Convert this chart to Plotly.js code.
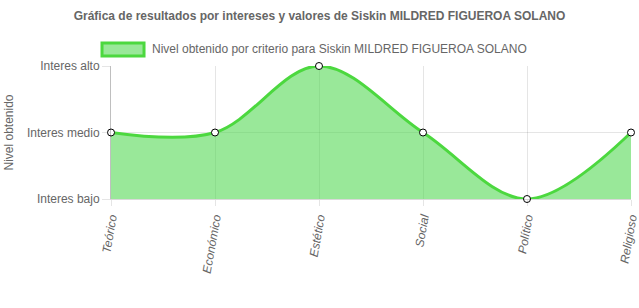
<!DOCTYPE html>
<html><head><meta charset="utf-8">
<script src="https://cdn.plot.ly/plotly-3.0.1.min.js"></script>
<style>html,body{margin:0;padding:0;background:#fff}#c{width:639px;height:308px}</style>
</head><body><div id="c"></div>
<script>
const categories = ["Teórico","Económico","Estético","Social","Político","Religioso"];
const values = [2, 2, 3, 2, 1, 2];
const levelValues = [1, 2, 3];
const levelLabels = ["Interes bajo","Interes medio","Interes alto"];
const seriesName = "Nivel obtenido por criterio para Siskin MILDRED FIGUEROA SOLANO";
const chartTitle = "Gráfica de resultados por intereses y valores de Siskin MILDRED FIGUEROA SOLANO";

const font = "Liberation Sans, Arial, Helvetica, sans-serif";
const green = "#4cd83f";
const fillc = "rgba(80,215,80,0.58)";
const trace = {
  x: categories, y: values, type: "scatter", mode: "lines+markers",
  name: seriesName, showlegend: false,
  line: {shape: "spline", smoothing: 1, color: green, width: 3},
  fill: "tozeroy", fillcolor: fillc,
  marker: {size: 7, color: "#ffffff", line: {color: "#000", width: 1}},
  cliponaxis: false
};
const layout = {
  width: 639, height: 308,
  margin: {l: 111, r: 8, t: 66, b: 109},
  paper_bgcolor: "#fff", plot_bgcolor: "#fff",
  font: {family: font, color: "#666", size: 12},
  title: {text: "<b>" + chartTitle + "</b>", x: 0.5, xanchor: "center", y: 0.948, yanchor: "middle",
          font: {family: font, size: 12, color: "#666"}},
  showlegend: false,
  shapes: [{type: "rect", xref: "paper", yref: "paper", x0: -0.0173, x1: 0.0635, y0: 1.0752, y1: 1.1729,
            fillcolor: fillc, line: {color: green, width: 3}}],
  annotations: [{text: seriesName, xref: "paper", yref: "paper", x: 0.075, y: 1.128,
                 xanchor: "left", yanchor: "middle", showarrow: false,
                 font: {family: font, size: 12, color: "#666"}}],
  xaxis: {
    type: "category", range: [0, 5], showgrid: true, gridcolor: "rgba(0,0,0,0.1)",
    showline: true, linecolor: "rgba(0,0,0,0.15)", mirror: false,
    ticks: "outside", ticklen: 6, tickcolor: "rgba(0,0,0,0.1)",
    tickangle: -80, tickfont: {family: font, size: 12, color: "#666", style: "italic"},
    zeroline: false, fixedrange: true
  },
  yaxis: {
    range: [1, 3], tickvals: levelValues, ticktext: levelLabels,
    showgrid: true, gridcolor: "rgba(0,0,0,0.1)", zeroline: false,
    showline: true, linecolor: "rgba(0,0,0,0.25)",
    ticks: "outside", ticklen: 8, tickcolor: "rgba(0,0,0,0.1)",
    tickfont: {family: font, size: 12, color: "#666"},
    title: {text: "Nivel obtenido", font: {family: font, size: 12, color: "#666"}, standoff: 10},
    fixedrange: true
  }
};
Plotly.newPlot("c", [trace], layout, {displayModeBar: false, staticPlot: true});
</script></body></html>
